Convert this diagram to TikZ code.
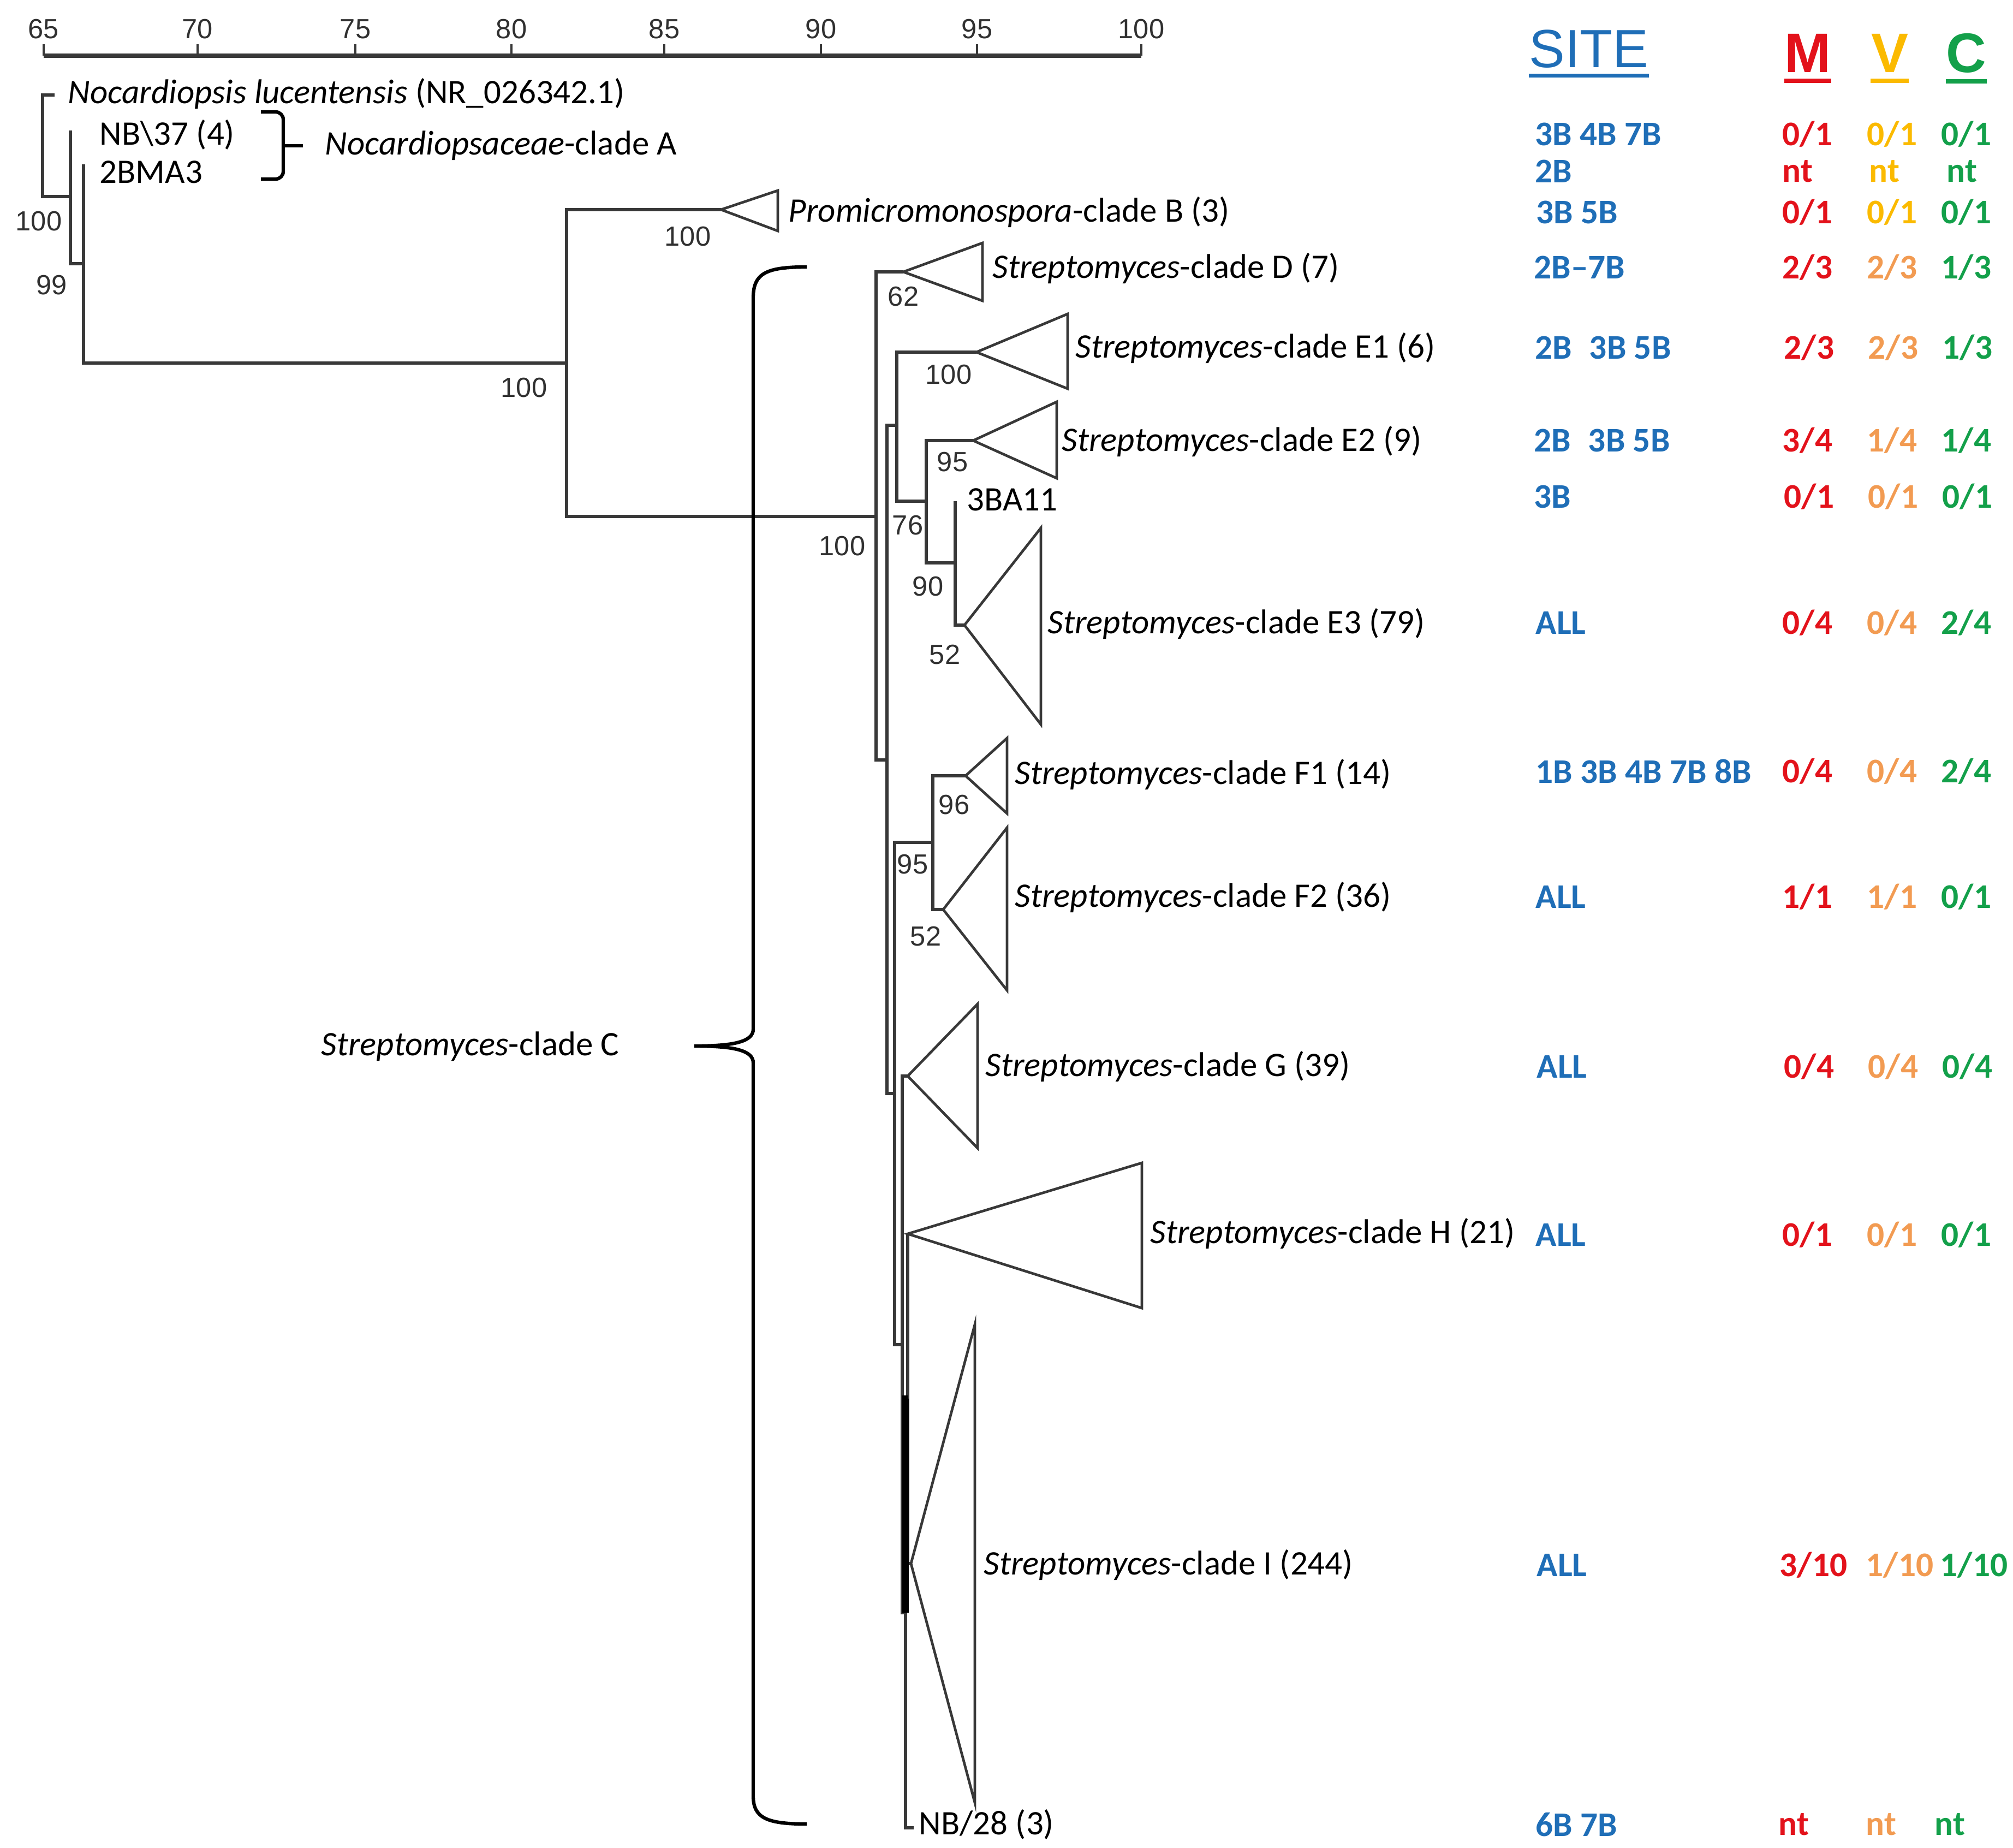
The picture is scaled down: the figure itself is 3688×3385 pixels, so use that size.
\documentclass[tikz,border=0pt]{standalone}
\usepackage{fontspec}
\setmainfont{Carlito}
\newfontfamily\arialfont{Liberation Sans}
\usepackage{tikz}
\usetikzlibrary{calc}
\usepackage{xcolor}
\definecolor{treeGray}{HTML}{383838}
\definecolor{bootGray}{HTML}{303030}
\definecolor{siteBlue}{HTML}{1F6EB7}
\definecolor{mRed}{HTML}{E3121B}
\definecolor{vGold}{HTML}{FBBA00}
\definecolor{vOrange}{HTML}{F29B52}
\definecolor{cGreen}{HTML}{13A04A}

\newcommand{\taxonsize}{\fontsize{17.9}{20}\selectfont}
\newcommand{\bootsize}{\arialfont\fontsize{14.4}{16}\selectfont}
\newcommand{\colsize}{\bfseries\fontsize{18}{20}\selectfont}

\tikzset{
    % tree lines
    branch/.style={draw=treeGray,line width=1.6pt},
    cladetri/.style={draw=treeGray,line width=1.35pt,line join=miter},
    bracket/.style={draw=black,line width=1.8pt},
    % text
    taxon/.style={anchor=west,inner sep=0pt,font=\taxonsize,text=black},
    boot/.style={inner sep=0pt,font=\bootsize,text=bootGray},
    axislabel/.style={inner sep=0pt,font=\bootsize,text=bootGray},
    % table on the right
    sitecol/.style={anchor=west,inner sep=0pt,font=\colsize,text=siteBlue},
    mcol/.style={anchor=west,inner sep=0pt,font=\colsize,text=mRed},
    vcol/.style={anchor=west,inner sep=0pt,font=\colsize,text=vOrange},
    ccol/.style={anchor=west,inner sep=0pt,font=\colsize,text=cGreen},
    colhead/.style={inner sep=0pt,font=\arialfont\bfseries\fontsize{29}{32}\selectfont}
}

\begin{document}
\begin{tikzpicture}[x=0.01cm,y=-0.01cm]
\path[use as bounding box,fill=white] (0,0) rectangle (3688,3385);

% Scale bar
\draw[draw=treeGray,line width=2.2pt] (80,102) -- (2091,102);
\draw[draw=treeGray,line width=1.2pt] (80,102) -- (80,81);
\draw[draw=treeGray,line width=1.2pt] (362,102) -- (362,81);
\draw[draw=treeGray,line width=1.2pt] (651,102) -- (651,81);
\draw[draw=treeGray,line width=1.2pt] (937,102) -- (937,81);
\draw[draw=treeGray,line width=1.2pt] (1217,102) -- (1217,81);
\draw[draw=treeGray,line width=1.2pt] (1504,102) -- (1504,81);
\draw[draw=treeGray,line width=1.2pt] (1790,102) -- (1790,81);
\draw[draw=treeGray,line width=1.2pt] (2091,102) -- (2091,81);
\node[axislabel] at (80,53) (tick_65) {65};
\node[axislabel] at (362,53) (tick_70) {70};
\node[axislabel] at (651,53) (tick_75) {75};
\node[axislabel] at (937,53) (tick_80) {80};
\node[axislabel] at (1217,53) (tick_85) {85};
\node[axislabel] at (1504,53) (tick_90) {90};
\node[axislabel] at (1790,53) (tick_95) {95};
\node[axislabel] at (2091,53) (tick_100) {100};

% Internal nodes
\coordinate (n_a) at (78,266);
\coordinate (n_b) at (129,360);
\coordinate (n_c) at (153,483);
\coordinate (n_d) at (1038,665);
\coordinate (n_e) at (1605,946);
\coordinate (n_f) at (1625,1392);
\coordinate (n_g) at (1643,779);
\coordinate (n_i) at (1697,918);
\coordinate (n_j) at (1750,1031);
\coordinate (n_h) at (1639,2003);
\coordinate (n_k) at (1709,1543);
\coordinate (n_l) at (1653,2463);
\coordinate (n_m) at (1659,2954);
\coordinate (n_n) at (1663,2562);

% Leaves and collapsed clades
\coordinate (leaf_nluc) at (100,174);
\coordinate (leaf_nb37) at (129,239);
\coordinate (leaf_2bma3) at (153,301);
\coordinate (leaf_3ba11) at (1750,918);
\coordinate (leaf_nb28) at (1674,3348);
\coordinate (tri_b) at (1321,384);
\coordinate (tri_d) at (1655,498);
\coordinate (tri_e1) at (1789,645);
\coordinate (tri_e2) at (1783,807);
\coordinate (tri_e3) at (1767,1145);
\coordinate (tri_f1) at (1769,1421);
\coordinate (tri_f2) at (1728,1666);
\coordinate (tri_g) at (1663,1971);
\coordinate (tri_h) at (1663,2260);
\coordinate (tri_i) at (1669,2864);

% Branches
\draw[branch] (n_a) |- (leaf_nluc);
\draw[branch] (n_a) |- (n_b);
\draw[branch] (n_b) |- (leaf_nb37);
\draw[branch] (n_b) |- (n_c);
\draw[branch] (n_c) |- (leaf_2bma3);
\draw[branch] (n_c) |- (n_d);
\draw[branch] (n_d) |- (tri_b);
\draw[branch] (n_d) |- (n_e);
\draw[branch] (n_e) |- (tri_d);
\draw[branch] (n_e) |- (n_f);
\draw[branch] (n_f) |- (n_g);
\draw[branch] (n_f) |- (n_h);
\draw[branch] (n_g) |- (tri_e1);
\draw[branch] (n_g) |- (n_i);
\draw[branch] (n_i) |- (tri_e2);
\draw[branch] (n_i) |- (n_j);
\draw[branch] (n_j) |- (leaf_3ba11);
\draw[branch] (n_j) |- (tri_e3);
\draw[branch] (n_h) |- (n_k);
\draw[branch] (n_h) |- (n_l);
\draw[branch] (n_k) |- (tri_f1);
\draw[branch] (n_k) |- (tri_f2);
\draw[branch] (n_l) |- (tri_g);
\draw[branch] (n_l) |- (n_m);
\draw[branch] (n_m) |- (leaf_nb28);
\draw[branch] (n_n) |- (tri_h);
\draw[branch] (n_n) |- (tri_i);
\draw[branch,draw=black,line width=3.4pt] (n_m) |- (n_n);

% Collapsed clades
\draw[cladetri] (tri_b) -- (1425,349) -- (1425,423) -- cycle;
\draw[cladetri] (tri_d) -- (1800,445) -- (1800,551) -- cycle;
\draw[cladetri] (tri_e1) -- (1956,575) -- (1956,712) -- cycle;
\draw[cladetri] (tri_e2) -- (1936,736) -- (1936,876) -- cycle;
\draw[cladetri] (tri_e3) -- (1907,967) -- (1907,1327) -- cycle;
\draw[cladetri] (tri_f1) -- (1845,1352) -- (1845,1490) -- cycle;
\draw[cladetri] (tri_f2) -- (1845,1516) -- (1845,1814) -- cycle;
\draw[cladetri] (tri_g) -- (1791,1839) -- (1791,2103) -- cycle;
\draw[cladetri] (tri_h) -- (2092,2130) -- (2092,2396) -- cycle;
\draw[cladetri] (tri_i) -- (1786,2426) -- (1786,3302) -- cycle;

% Brackets
\draw[bracket,rounded corners=4pt] (478,205) -| (519,328) -- (478,328);
\draw[bracket] (519,267) -- (555,267);
\draw[bracket] (1478,489) .. controls (1405,489) and (1380,500) .. (1380,545)
    -- (1380,1885) .. controls (1380,1908) and (1345,1916) .. (1272,1916)
    .. controls (1345,1916) and (1380,1924) .. (1380,1947)
    -- (1380,3290) .. controls (1380,3330) and (1405,3341) .. (1478,3341);

% Taxon labels
\node[taxon] at (124,172) (lbl_nluc) {\textit{Nocardiopsis lucentensis} (NR\_026342.1)};
\node[taxon] at (182,247) (lbl_nb37) {NB\textbackslash 37 (4)};
\node[taxon] at (182,315) (lbl_2bma3) {2BMA3};
\node[taxon] at (595,267) (lbl_a) {\textit{Nocardiopsaceae}-clade A};
\node[taxon] at (1444,389) (lbl_b) {\textit{Promicromonospora}-clade B (3)};
\node[taxon] at (1818,492) (lbl_d) {\textit{Streptomyces}-clade D (7)};
\node[taxon] at (1970,638) (lbl_e1) {\textit{Streptomyces}-clade E1 (6)};
\node[taxon] at (1945,809) (lbl_e2) {\textit{Streptomyces}-clade E2 (9)};
\node[taxon] at (1771,915) (lbl_3ba11) {3BA11};
\node[taxon] at (1919,1143) (lbl_e3) {\textit{Streptomyces}-clade E3 (79)};
\node[taxon] at (1859,1419) (lbl_f1) {\textit{Streptomyces}-clade F1 (14)};
\node[taxon] at (1859,1644) (lbl_f2) {\textit{Streptomyces}-clade F2 (36)};
\node[taxon] at (1805,1954) (lbl_g) {\textit{Streptomyces}-clade G (39)};
\node[taxon] at (2107,2260) (lbl_h) {\textit{Streptomyces}-clade H (21)};
\node[taxon] at (1802,2867) (lbl_i) {\textit{Streptomyces}-clade I (244)};
\node[taxon] at (1683,3342) (lbl_nb28) {NB/28 (3)};
\node[taxon] at (588,1917) (lbl_c) {\textit{Streptomyces}-clade C};

% Bootstrap values
\node[boot] at (71,405) (bs_a) {100};
\node[boot] at (95,522) (bs_b) {99};
\node[boot] at (960,710) (bs_d) {100};
\node[boot] at (1260,433) (bs_pro) {100};
\node[boot] at (1543,1000) (bs_e) {100};
\node[boot] at (1655,543) (bs_cd) {62};
\node[boot] at (1738,686) (bs_e1) {100};
\node[boot] at (1745,846) (bs_e2) {95};
\node[boot] at (1663,962) (bs_g) {76};
\node[boot] at (1700,1074) (bs_i) {90};
\node[boot] at (1731,1199) (bs_j) {52};
\node[boot] at (1748,1474) (bs_f1) {96};
\node[boot] at (1672,1583) (bs_h) {95};
\node[boot] at (1696,1715) (bs_k) {52};

% Column headers
\node[colhead,font=\arialfont\fontsize{28}{32}\selectfont,text=siteBlue] at (2911,90) (site_head) {SITE};
\node[colhead,text=mRed] at (3312,97) (m_head) {M};
\node[colhead,text=vGold] at (3462,97) (v_head) {V};
\node[colhead,text=cGreen] at (3602,97) (c_head) {C};
\draw[siteBlue,line width=2pt] ([yshift=-3.7pt]site_head.south west) -- ([yshift=-3.7pt]site_head.south east);
\draw[mRed,line width=2.5pt] ([yshift=-4.3pt]m_head.south west) -- ([yshift=-4.3pt]m_head.south east);
\draw[vGold,line width=2.5pt] ([yshift=-4.3pt]v_head.south west) -- ([yshift=-4.3pt]v_head.south east);
\draw[cGreen,line width=2.5pt] ([yshift=-4.3pt]c_head.south west) -- ([yshift=-4.3pt]c_head.south east);

% Sites and M / V / C results, one row per clade
\node[sitecol] at (2812,246) (site_r1) {3B 4B 7B};
\node[mcol] at (3265,246) (m_r1) {0/1};
\node[vcol,text=vGold] at (3420,246) (v_r1) {0/1};
\node[ccol] at (3556,246) (c_r1) {0/1};

\node[sitecol] at (2812,314) (site_r2) {2B};
\node[mcol] at (3265,314) (m_r2) {nt};
\node[vcol,text=vGold] at (3424,314) (v_r2) {nt};
\node[ccol] at (3566,314) (c_r2) {nt};

\node[sitecol] at (2814,389) (site_r3) {3B 5B};
\node[mcol] at (3265,389) (m_r3) {0/1};
\node[vcol,text=vGold] at (3420,389) (v_r3) {0/1};
\node[ccol] at (3556,389) (c_r3) {0/1};

\node[sitecol] at (2810,490) (site_r4) {2B--7B};
\node[mcol] at (3265,490) (m_r4) {2/3};
\node[vcol] at (3420,490) (v_r4) {2/3};
\node[ccol] at (3556,490) (c_r4) {1/3};

\node[sitecol] at (2812,637) (site_r5) {2B\enspace 3B 5B};
\node[mcol] at (3268,637) (m_r5) {2/3};
\node[vcol] at (3422,637) (v_r5) {2/3};
\node[ccol] at (3558,637) (c_r5) {1/3};

\node[sitecol] at (2810,807) (site_r6) {2B\enspace 3B 5B};
\node[mcol] at (3265,807) (m_r6) {3/4};
\node[vcol] at (3420,807) (v_r6) {1/4};
\node[ccol] at (3556,807) (c_r6) {1/4};

\node[sitecol] at (2810,910) (site_r7) {3B};
\node[mcol] at (3268,910) (m_r7) {0/1};
\node[vcol] at (3422,910) (v_r7) {0/1};
\node[ccol] at (3558,910) (c_r7) {0/1};

\node[sitecol] at (2813,1141) (site_r8) {ALL};
\node[mcol] at (3265,1141) (m_r8) {0/4};
\node[vcol] at (3420,1141) (v_r8) {0/4};
\node[ccol] at (3556,1141) (c_r8) {2/4};

\node[sitecol] at (2813,1413) (site_r9) {1B 3B 4B 7B 8B};
\node[mcol] at (3265,1413) (m_r9) {0/4};
\node[vcol] at (3420,1413) (v_r9) {0/4};
\node[ccol] at (3556,1413) (c_r9) {2/4};

\node[sitecol] at (2813,1643) (site_r10) {ALL};
\node[mcol] at (3265,1643) (m_r10) {1/1};
\node[vcol] at (3420,1643) (v_r10) {1/1};
\node[ccol] at (3556,1643) (c_r10) {0/1};

\node[sitecol] at (2815,1954) (site_r11) {ALL};
\node[mcol] at (3268,1954) (m_r11) {0/4};
\node[vcol] at (3422,1954) (v_r11) {0/4};
\node[ccol] at (3558,1954) (c_r11) {0/4};

\node[sitecol] at (2813,2262) (site_r12) {ALL};
\node[mcol] at (3265,2262) (m_r12) {0/1};
\node[vcol] at (3420,2262) (v_r12) {0/1};
\node[ccol] at (3556,2262) (c_r12) {0/1};

\node[sitecol] at (2815,2867) (site_r13) {ALL};
\node[mcol] at (3260,2867) (m_r13) {3/10};
\node[vcol] at (3418,2867) (v_r13) {1/10};
\node[ccol] at (3554,2867) (c_r13) {1/10};

\node[sitecol] at (2813,3342) (site_r14) {6B 7B};
\node[mcol] at (3258,3342) (m_r14) {nt};
\node[vcol] at (3418,3342) (v_r14) {nt};
\node[ccol] at (3544,3342) (c_r14) {nt};

\end{tikzpicture}
\end{document}
